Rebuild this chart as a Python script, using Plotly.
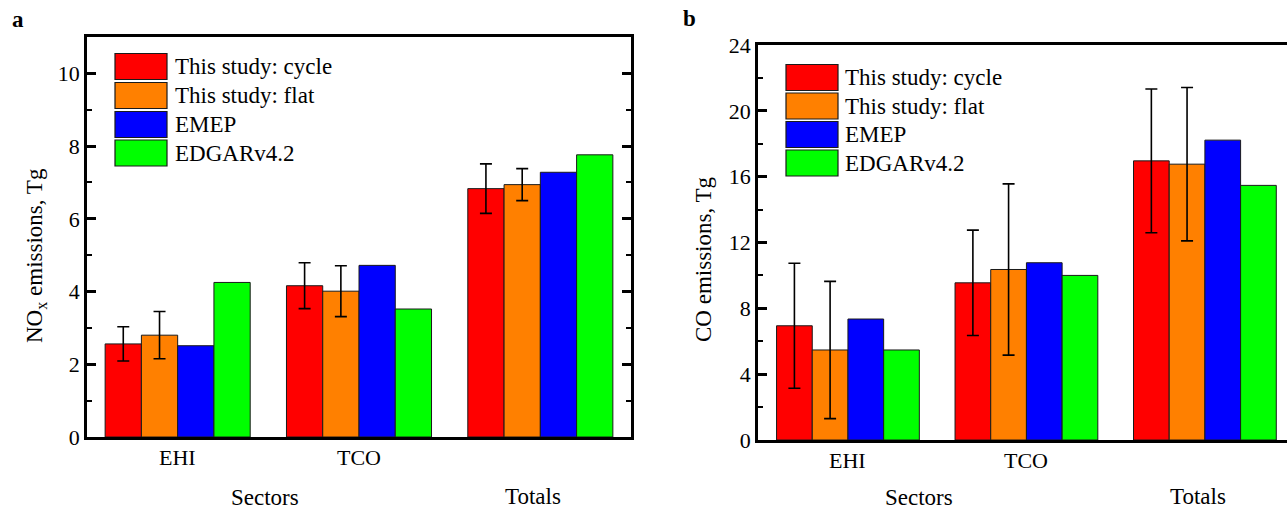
import plotly.graph_objects as go

W, H = 1287, 509

# ---------------- data ----------------
categories = ["EHI", "TCO", "Totals"]
tick_categories = ["EHI", "TCO"]
series_names = ["This study: cycle", "This study: flat", "EMEP", "EDGARv4.2"]
colors = ["#FF0000", "#FF8000", "#0000FF", "#00FF00"]

nox_cycle = [2.56, 4.16, 6.83]
nox_cycle_err = [0.47, 0.63, 0.68]
nox_flat = [2.80, 4.01, 6.94]
nox_flat_err = [0.65, 0.70, 0.44]
nox_emep = [2.51, 4.72, 7.28]
nox_edgar = [4.25, 3.52, 7.76]

co_cycle = [6.94, 9.55, 16.96]
co_cycle_err = [3.80, 3.20, 4.37]
co_flat = [5.47, 10.36, 16.76]
co_flat_err = [4.17, 5.20, 4.66]
co_emep = [7.35, 10.77, 18.22]
co_edgar = [5.47, 10.00, 15.47]

FONT = "Liberation Serif, Times New Roman, serif"


def px_x(p):
    return p / W


def px_y(p):
    return 1 - p / H


fig = go.Figure()

nox_series = [(nox_cycle, nox_cycle_err), (nox_flat, nox_flat_err), (nox_emep, None), (nox_edgar, None)]
co_series = [(co_cycle, co_cycle_err), (co_flat, co_flat_err), (co_emep, None), (co_edgar, None)]

for (vals, err), name, col in zip(nox_series, series_names, colors):
    fig.add_trace(go.Bar(
        x=categories, y=vals, name=name, marker=dict(color=col, line=dict(color="#1a1a1a", width=1)),
        error_y=dict(type="data", array=err, visible=err is not None, color="black", thickness=1.6, width=6),
        xaxis="x", yaxis="y", showlegend=False))

for (vals, err), name, col in zip(co_series, series_names, colors):
    fig.add_trace(go.Bar(
        x=categories, y=vals, name=name, marker=dict(color=col, line=dict(color="#1a1a1a", width=1)),
        error_y=dict(type="data", array=err, visible=err is not None, color="black", thickness=1.6, width=6),
        xaxis="x2", yaxis="y2", showlegend=False))

axis_common = dict(showgrid=False, zeroline=False, linecolor="black", linewidth=2.5, showline=True,
                   automargin=False)

fig.update_layout(
    width=W, height=H,
    margin=dict(l=0, r=0, t=0, b=0, pad=0, autoexpand=False),
    paper_bgcolor="white", plot_bgcolor="white",
    barmode="group", bargap=0.2, bargroupgap=0,
    font=dict(family=FONT, size=22, color="black"),
    showlegend=False,
    xaxis=dict(domain=[px_x(87), px_x(631)], range=[-0.5, 2.5], type="category",
               mirror=True, ticks="", showticklabels=False, anchor="y", **axis_common),
    yaxis=dict(domain=[px_y(437), px_y(37)], range=[0, 11], dtick=2, tick0=0,
               ticks="inside", ticklen=9, tickwidth=2.5, tickcolor="black", mirror="ticks",
               minor=dict(dtick=1, tick0=0, ticks="inside", ticklen=5, tickwidth=2, tickcolor="black"),
               tickfont=dict(size=22), anchor="x", **axis_common),
    xaxis2=dict(domain=[px_x(758), 1.0], range=[-0.504, 2.46], type="category",
                mirror=True, ticks="", showticklabels=False, anchor="y2", **axis_common),
    yaxis2=dict(domain=[px_y(440), px_y(45)], range=[0, 24], dtick=4, tick0=0,
                ticks="inside", ticklen=9, tickwidth=2.5, tickcolor="black", mirror=False,
                minor=dict(dtick=2, tick0=0, ticks="inside", ticklen=5, tickwidth=2, tickcolor="black"),
                tickfont=dict(size=22), anchor="x2", **axis_common),
    yaxis3=dict(overlaying="y2", side="right", anchor="x2", range=[0, 24], dtick=4, tick0=0,
                ticks="inside", ticklen=9, tickwidth=2.5, tickcolor="black",
                minor=dict(dtick=2, tick0=0, ticks="inside", ticklen=5, tickwidth=2, tickcolor="black"),
                showticklabels=False, showline=False, showgrid=False, zeroline=False, automargin=False),
)

annotations = []
shapes = []

# panel letters
annotations.append(dict(text="<b>a</b>", x=px_x(18), y=px_y(20), xref="paper", yref="paper",
                        showarrow=False, xanchor="center", yanchor="middle", font=dict(size=23)))
annotations.append(dict(text="<b>b</b>", x=px_x(689), y=px_y(19), xref="paper", yref="paper",
                        showarrow=False, xanchor="center", yanchor="middle", font=dict(size=23)))

# y titles
annotations.append(dict(text="NO<sub>x</sub> emissions, Tg", x=px_x(36), y=px_y(256), xref="paper", yref="paper",
                        showarrow=False, textangle=-90, xanchor="center", yanchor="middle", font=dict(size=23)))
annotations.append(dict(text="CO emissions, Tg", x=px_x(703), y=px_y(259), xref="paper", yref="paper",
                        showarrow=False, textangle=-90, xanchor="center", yanchor="middle", font=dict(size=23)))

# category tick labels and secondary x labels
for xr, ty, xs, xt in [("x", 457, 0.48, 1.96), ("x2", 460, 0.40, 1.96)]:
    for cat in tick_categories:
        annotations.append(dict(text=cat, x=cat, y=px_y(ty), xref=xr, yref="paper", showarrow=False,
                                xanchor="center", yanchor="middle", font=dict(size=22)))
    annotations.append(dict(text="Sectors", x=xs, y=px_y(497), xref=xr, yref="paper", showarrow=False,
                            xanchor="center", yanchor="middle", font=dict(size=23)))
    annotations.append(dict(text="Totals", x=xt, y=px_y(496), xref=xr, yref="paper", showarrow=False,
                            xanchor="center", yanchor="middle", font=dict(size=23)))

# manual legends
legend_specs = [
    dict(x0=115, x1=167, rows=[66.5, 95.5, 124.5, 153.0], h=26, tx=173),
    dict(x0=786, x1=838, rows=[77.5, 106.0, 134.5, 163.0], h=26, tx=843),
]
for spec in legend_specs:
    for name, col, cy in zip(series_names, colors, spec["rows"]):
        shapes.append(dict(type="rect", xref="paper", yref="paper",
                           x0=px_x(spec["x0"]), x1=px_x(spec["x1"]),
                           y0=px_y(cy + spec["h"] / 2), y1=px_y(cy - spec["h"] / 2),
                           fillcolor=col, line=dict(color="#1a1a1a", width=1.2), layer="above"))
        annotations.append(dict(text=name, x=px_x(spec["tx"]), y=px_y(cy), xref="paper", yref="paper",
                                showarrow=False, xanchor="left", yanchor="middle", font=dict(size=23)))

fig.update_layout(annotations=annotations, shapes=shapes)

fig.write_html("out.html")
